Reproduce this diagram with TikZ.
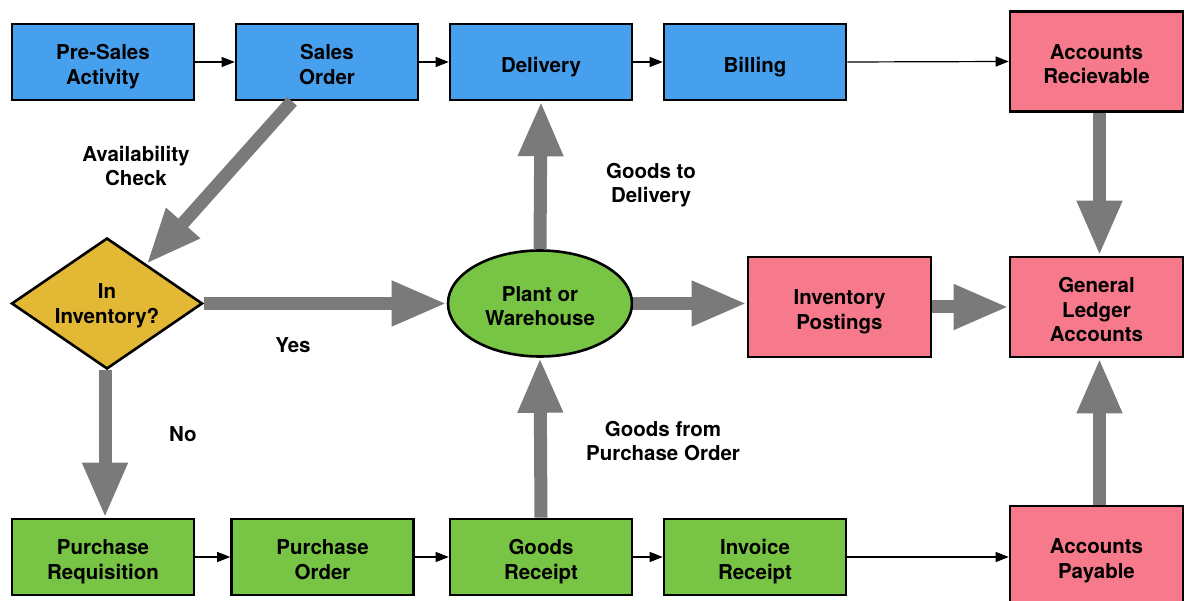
\documentclass[tikz,border=0pt]{standalone}
\usepackage{fontspec}
\setmainfont{TeX Gyre Heros}
\usetikzlibrary{arrows.meta,shapes.geometric}
\definecolor{bblue}{HTML}{47A0EE}
\definecolor{bgreen}{HTML}{78C445}
\definecolor{bpink}{HTML}{F67A8B}
\definecolor{byellow}{HTML}{E2B834}
\definecolor{agray}{HTML}{7A7A7A}
\tikzset{
  lbl/.style={align=center, font=\fontsize{20.5}{24.5}\selectfont\bfseries},
  shapetext/.style={draw=black, line width=2.6pt, inner sep=0pt},
  txt/.style={label={[lbl, text depth=0pt, yshift=-2.5pt]center:#1}},
  txtm/.style={label={[lbl, yshift=-2.5pt]center:#1}},
  box/.style={shapetext, minimum width=182pt, minimum height=76pt},
  bluebox/.style={box, fill=bblue},
  greenbox/.style={box, fill=bgreen},
  pinkbox/.style={box, fill=bpink, minimum width=173pt, minimum height=100pt},
  thin/.style={draw=black, line width=1.2pt, -{Triangle[length=13pt,width=10pt]}},
  bigarrow/.style={draw=agray, line width=13pt, -{Triangle[length=55pt,width=42pt]}},
}
\begin{document}
\begin{tikzpicture}[x=1pt,y=-1pt]
\useasboundingbox (0,0) rectangle (1184,601);
\clip (0,0) rectangle (1184,601);
% top row
\node[bluebox, txt={Pre-Sales\\Activity}] (pre) at (103,62) {};
\node[bluebox, txt={Sales\\Order}] (so) at (327,62) {};
\node[bluebox, txt={Delivery}] (del) at (541,62) {};
\node[bluebox, txt={Billing}] (bill) at (755,62) {};
\node[pinkbox, txt={Accounts\\Recievable}] (ar) at (1096.5,61.5) {};
% middle row
\node[shapetext, fill=byellow, diamond, aspect=1.46, minimum width=191pt, minimum height=131pt,
  txtm={In\\Inventory?}] (inv) at (107,303.5) {};
\node[shapetext, fill=bgreen, ellipse, minimum width=184pt, minimum height=106pt,
  txtm={Plant or\\Warehouse}] (plant) at (540,303.5) {};
\node[pinkbox, minimum width=183pt, txt={Inventory\\Postings}] (ip) at (839.5,307) {};
\node[pinkbox, txt={General\\Ledger\\Accounts}] (gl) at (1096.5,307) {};
% bottom row
\node[greenbox, txt={Purchase\\Requisition}] (pr) at (103,557) {};
\node[greenbox, txt={Purchase\\Order}] (po) at (322.5,557) {};
\node[greenbox, txt={Goods\\Receipt}] (gr) at (541,557) {};
\node[greenbox, txt={Invoice\\Receipt}] (ir) at (755,557) {};
\node[pinkbox, txt={Accounts\\Payable}] (ap) at (1096.5,556) {};
% labels
\node[lbl] (lav) at (136,166) {Availability\\Check};
\node[lbl] (lgd) at (651,185) {Goods to\\Delivery};
\node[lbl] (lyes) at (293,345) {Yes};
\node[lbl] (lno) at (183,434) {No};
\node[lbl] (lgp) at (663,441) {Goods from\\Purchase Order};
% thin arrows
\draw[thin] (pre.east) -- (so.west);
\draw[thin] (so.east) -- (del.west);
\draw[thin] (del.east) -- (bill.west);
\draw[thin] (bill.east) -- (ar.west);
\draw[thin] (pr.east) -- (po.west);
\draw[thin] (po.east) -- (gr.west);
\draw[thin] (gr.east) -- (ir.west);
\draw[thin] (ir.east) -- (ap.west |- ir.east);
% thick arrows
\draw[bigarrow] ([xshift=-35pt]so.south) -- (inv.45);
\draw[bigarrow] (inv.east) -- (plant.west);
\draw[bigarrow] (plant.north) -- (del.south);
\draw[bigarrow] (gr.north) -- (plant.south);
\draw[bigarrow] (plant.east) -- (ip.west |- plant.east);
\draw[bigarrow] (ip.east) -- (gl.west);
\draw[bigarrow] ([xshift=3pt]ar.south) -- ([xshift=3pt]gl.north);
\draw[bigarrow] ([xshift=3pt]ap.north) -- ([xshift=3pt]gl.south);
\draw[bigarrow] ([xshift=-2pt]inv.south) -- ([xshift=2pt]pr.north);
\end{tikzpicture}
\end{document}
